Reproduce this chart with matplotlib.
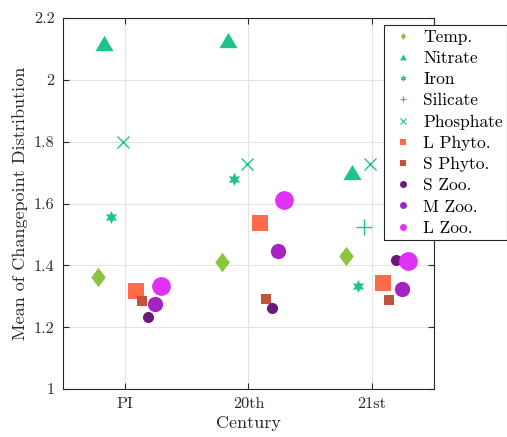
import numpy as np
import matplotlib
matplotlib.use("Agg")
import matplotlib.pyplot as plt
from matplotlib.lines import Line2D
from matplotlib.path import Path

plt.rcParams['font.family'] = 'serif'
plt.rcParams['font.serif'] = ['cmr10']
plt.rcParams['mathtext.fontset'] = 'cm'
plt.rcParams['axes.formatter.use_mathtext'] = True

centuries = ['PI', '20th', '21st']
labels = ['Temp.', 'Nitrate', 'Iron', 'Silicate', 'Phosphate',
          'L Phyto.', 'S Phyto.', 'S Zoo.', 'M Zoo.', 'L Zoo.']

temp = [1.362, 1.411, 1.430]
nitrate = [2.120, 2.130, 1.702]
iron = [1.557, 1.680, 1.333]
silicate = [np.nan, np.nan, 1.524]
phosphate = [1.800, 1.728, 1.728]
l_phyto = [1.317, 1.537, 1.343]
s_phyto = [1.285, 1.291, 1.288]
s_zoo = [1.233, 1.262, 1.417]
m_zoo = [1.275, 1.447, 1.324]
l_zoo = [1.333, 1.612, 1.414]

series = [temp, nitrate, iron, silicate, phosphate, l_phyto, s_phyto, s_zoo, m_zoo, l_zoo]

# styling
diamond = Path([(0, 1), (0.75, 0), (0, -1), (-0.75, 0), (0, 1)])
tri = Path([(0, 0.85), (1, -0.85), (-1, -0.85), (0, 0.85)])
teal = '#1dc48a'
styles = [
    dict(marker=diamond, color='#8bc53f', ms=14),
    dict(marker=tri, color=teal, ms=13),
    dict(marker=(6, 1, 0), color=teal, ms=9.5),
    dict(marker='+', color=teal, ms=11, mew=1.0),
    dict(marker='x', color=teal, ms=8, mew=1.0),
    dict(marker='s', color='#ff6b48', ms=11.5),
    dict(marker='s', color='#c0533a', ms=6.5),
    dict(marker='o', color='#6b1a7c', ms=8),
    dict(marker='o', color='#a523c2', ms=11),
    dict(marker='o', color='#e032f7', ms=13.5),
]
offsets = [-0.215, -0.165, -0.115, -0.065, -0.015, 0.09, 0.14, 0.19, 0.24, 0.29]

fig = plt.figure(figsize=(5.07, 4.37), dpi=100)
ax = fig.add_axes([63/507, 48/437, 371/507, 371/437])

x = np.arange(1, len(centuries) + 1)
handles = []
for vals, st, off, lab in zip(series, styles, offsets, labels):
    mew = st.get('mew', 0)
    ax.plot(x + off, vals, linestyle='none', marker=st['marker'], color=st['color'],
            markersize=st['ms'], markeredgewidth=mew, zorder=3)
    h = Line2D([], [], linestyle='none', marker=st['marker'], color=st['color'],
               markersize=5, markeredgewidth=mew * 0.8)
    handles.append(h)

ax.set_xlim(0.5, 3.5)
ax.set_ylim(1, 2.2)
ax.set_xticks(x)
ax.set_xticklabels(centuries)
yt = np.round(np.arange(1, 2.21, 0.2), 1)
ax.set_yticks(yt)
ax.set_yticklabels([f'{v:g}' for v in yt])
ax.tick_params(direction='in', length=4, width=0.8, top=True, right=True,
               labelsize=11.7, colors='#262626', pad=6)
ax.grid(True, color='#e3e3e3', linewidth=0.8, zorder=0)
ax.set_axisbelow(True)
for s in ax.spines.values():
    s.set_color('#262626')
    s.set_linewidth(0.8)

ax.set_xlabel('Century', fontsize=13, color='#262626', labelpad=3)
ax.set_ylabel('Mean of Changepoint Distribution', fontsize=13, color='#262626')

leg = fig.legend(handles, labels, loc='upper left', bbox_to_anchor=(384/507, 1 - 25/437),
                 bbox_transform=fig.transFigure, fontsize=12.5, frameon=True, fancybox=False,
                 edgecolor='#262626', framealpha=1, borderaxespad=0, labelspacing=0.34,
                 handlelength=1.7, handletextpad=0.3, borderpad=0.25)
leg.get_frame().set_linewidth(0.8)

fig.savefig('out.png', dpi=100)
